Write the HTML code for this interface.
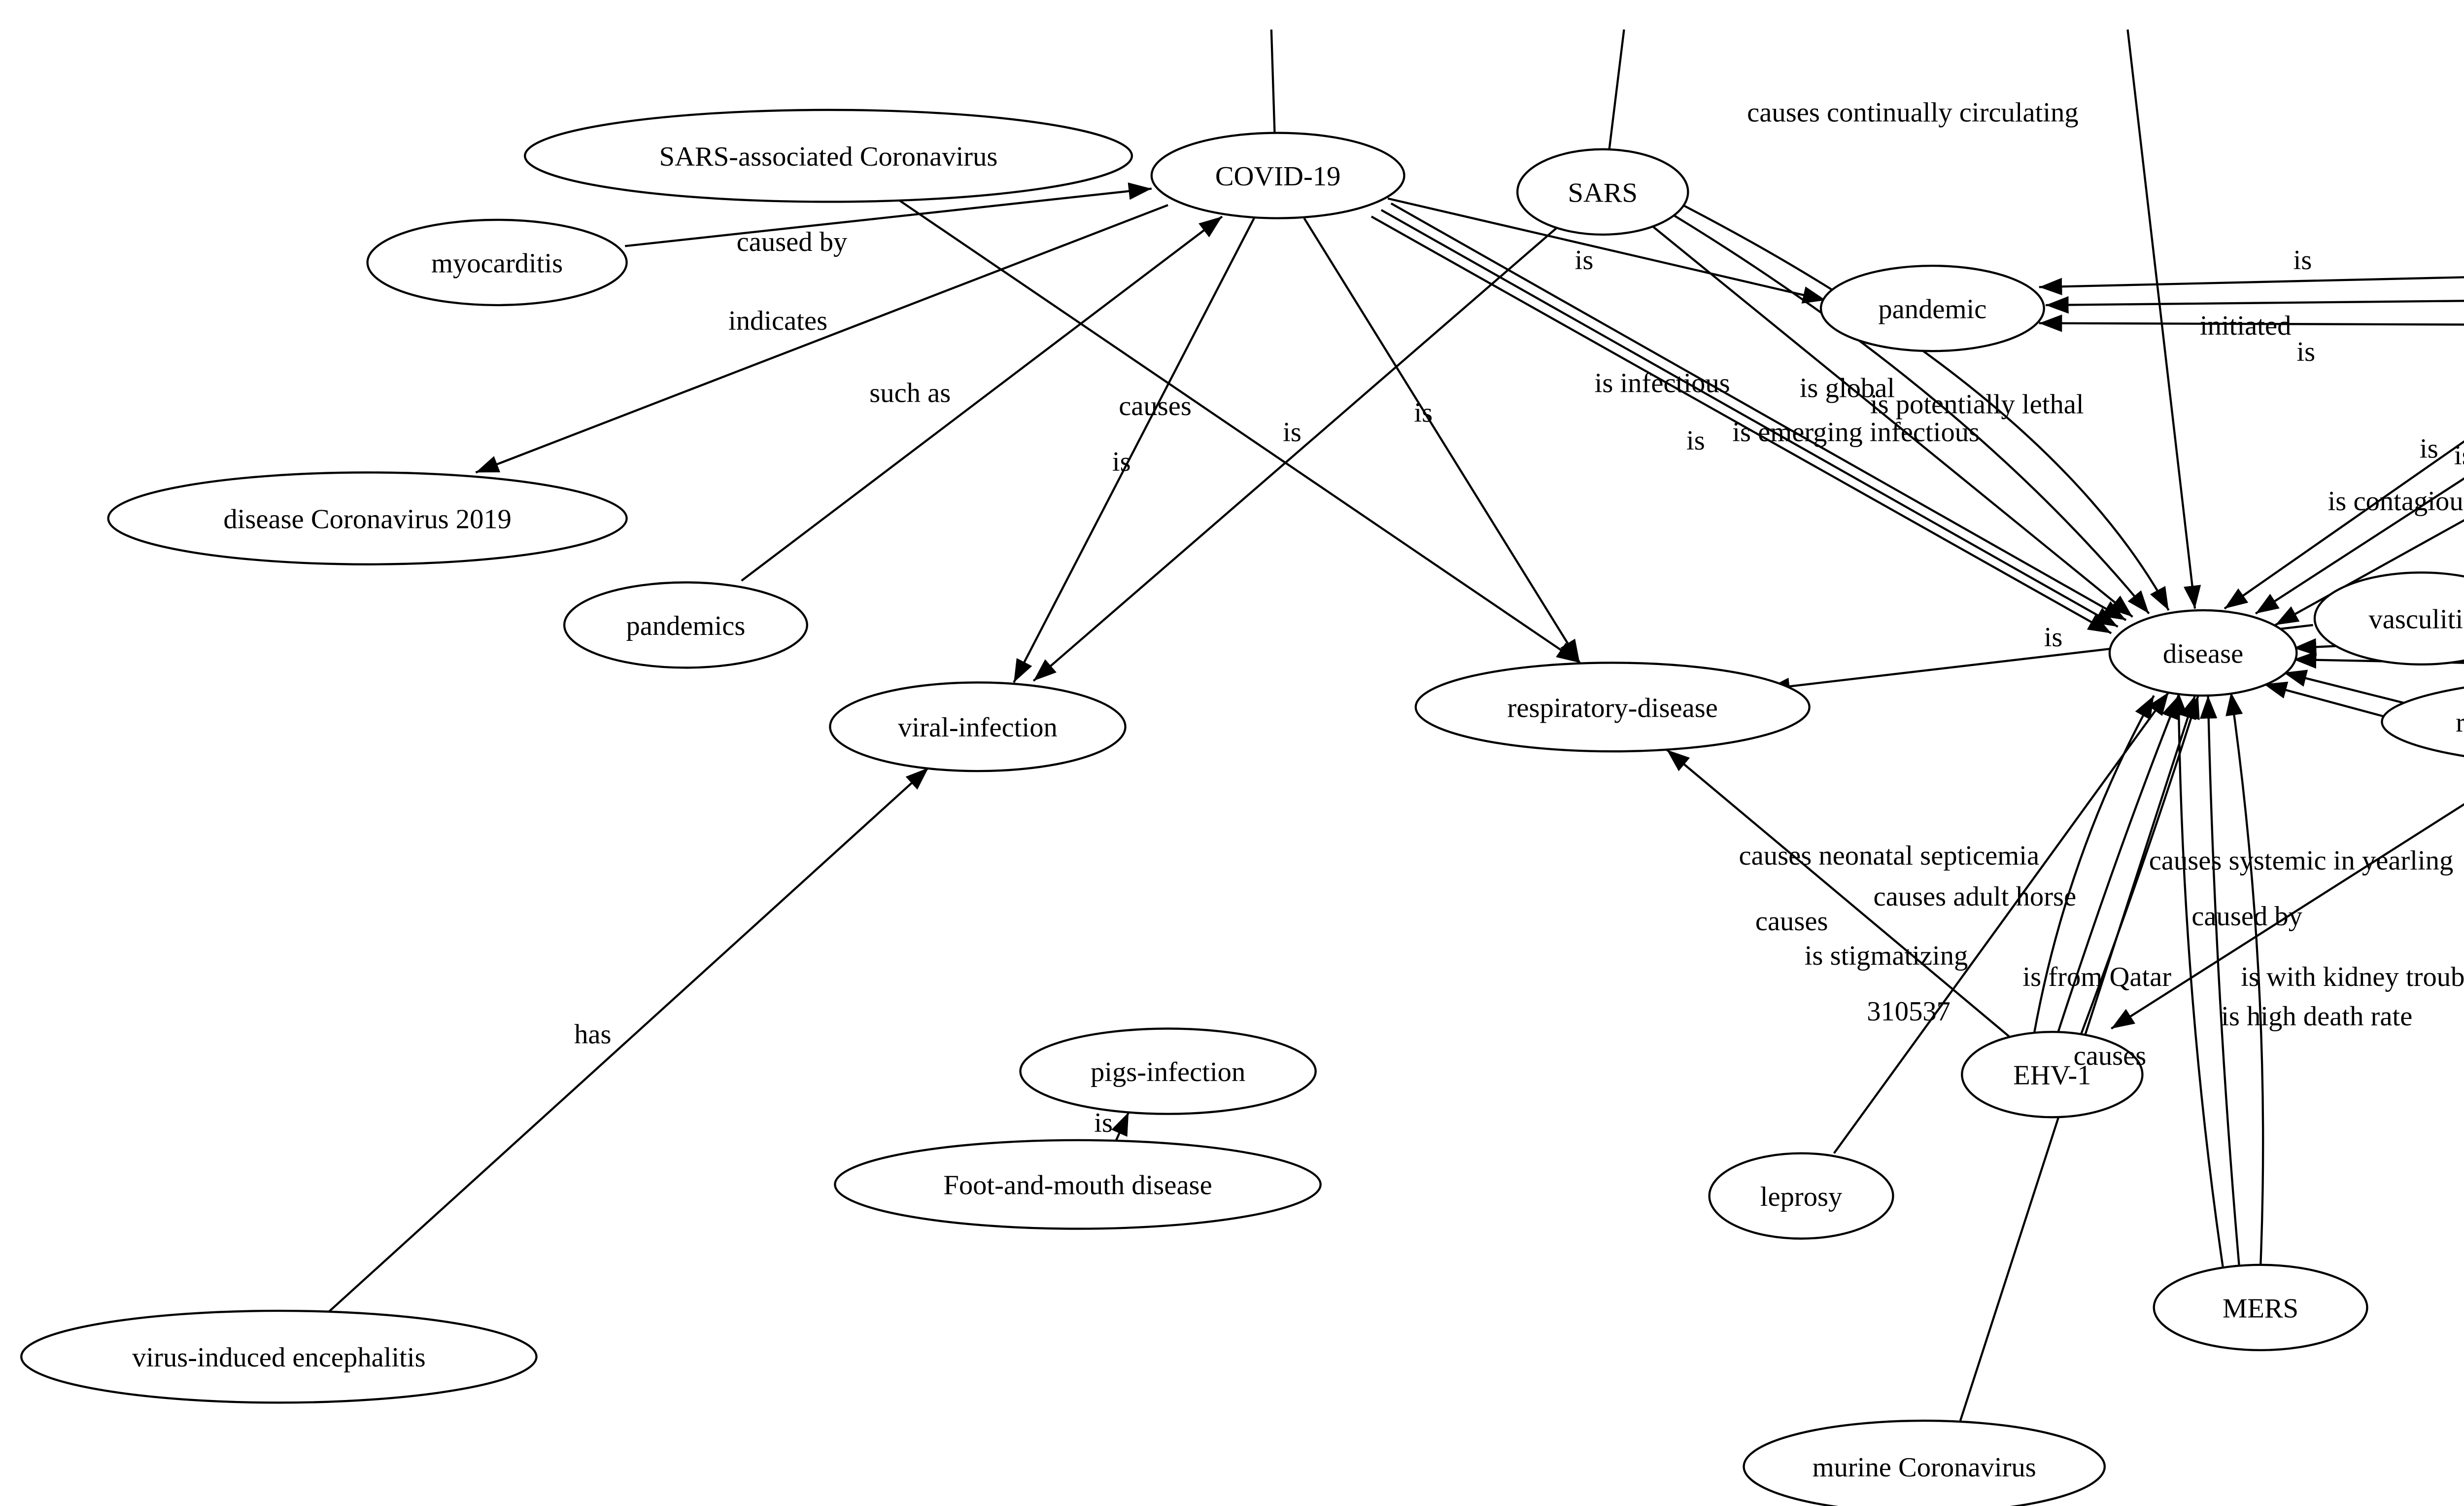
<!DOCTYPE html>
<html><head><meta charset="utf-8"><style>html,body{margin:0;padding:0;background:#fff}svg{display:block}</style></head>
<body>
<svg width="5163" height="3055" viewBox="0 0 1551 918" preserveAspectRatio="none" xmlns="http://www.w3.org/2000/svg" font-family="Liberation Serif, serif" font-size="17">
<defs><marker id="a" viewBox="0 0 10 10" refX="10" refY="5" markerWidth="14" markerHeight="14" markerUnits="userSpaceOnUse" orient="auto"><path d="M0,1.2 L10,5 L0,8.8 z" fill="#000"/></marker></defs>
<rect width="1551" height="918" fill="#fff"/>
<g stroke="#000" stroke-width="1.3" fill="none">
<line x1="775" y1="18" x2="777" y2="81"/>
<line x1="990" y1="18" x2="981" y2="91"/>
<line x1="1297" y1="18" x2="1338" y2="371" marker-end="url(#a)"/>
<line x1="381" y1="150" x2="702" y2="115" marker-end="url(#a)"/>
<line x1="712" y1="125" x2="290" y2="288" marker-end="url(#a)"/>
<line x1="452" y1="354" x2="745" y2="132" marker-end="url(#a)"/>
<line x1="765" y1="132" x2="618" y2="416" marker-end="url(#a)"/>
<line x1="950" y1="138" x2="630" y2="415" marker-end="url(#a)"/>
<line x1="548" y1="122" x2="963" y2="404" marker-end="url(#a)"/>
<line x1="795" y1="133" x2="963" y2="404" marker-end="url(#a)"/>
<line x1="846" y1="121" x2="1113" y2="183" marker-end="url(#a)"/>
<line x1="848" y1="124" x2="1296" y2="378" marker-end="url(#a)"/>
<line x1="842" y1="128" x2="1291" y2="382" marker-end="url(#a)"/>
<line x1="836" y1="132" x2="1287" y2="386" marker-end="url(#a)"/>
<line x1="1005" y1="136" x2="1300" y2="376" marker-end="url(#a)"/>
<path d="M1015,128 Q1200,240 1310,374" marker-end="url(#a)"/>
<path d="M1020,122 Q1250,240 1322,372" marker-end="url(#a)"/>
<line x1="1545" y1="168" x2="1243" y2="175" marker-end="url(#a)"/>
<line x1="1540" y1="183" x2="1247" y2="186" marker-end="url(#a)"/>
<line x1="1545" y1="198" x2="1243" y2="197" marker-end="url(#a)"/>
<line x1="1551" y1="235" x2="1356" y2="371" marker-end="url(#a)"/>
<line x1="1551" y1="260" x2="1375" y2="374" marker-end="url(#a)"/>
<line x1="1551" y1="290" x2="1387" y2="381" marker-end="url(#a)"/>
<line x1="1551" y1="372" x2="1543" y2="374" marker-end="url(#a)"/>
<line x1="1551" y1="388" x2="1398" y2="395" marker-end="url(#a)"/>
<line x1="1551" y1="405" x2="1398" y2="402" marker-end="url(#a)"/>
<line x1="1551" y1="450" x2="1392" y2="410" marker-end="url(#a)"/>
<line x1="1551" y1="463" x2="1380" y2="417" marker-end="url(#a)"/>
<line x1="1410" y1="381" x2="1077" y2="420" marker-end="url(#a)"/>
<line x1="1225" y1="632" x2="1016" y2="457" marker-end="url(#a)"/>
<line x1="1118" y1="703" x2="1322" y2="422" marker-end="url(#a)"/>
<path d="M1240,630 Q1260,520 1313,424" marker-end="url(#a)"/>
<path d="M1254,631 Q1290,520 1328,424" marker-end="url(#a)"/>
<path d="M1268,632 Q1310,520 1340,424" marker-end="url(#a)"/>
<line x1="1195" y1="866" x2="1338" y2="424" marker-end="url(#a)"/>
<path d="M1355,772 Q1330,600 1328,422" marker-end="url(#a)"/>
<path d="M1365,772 Q1350,600 1346,424" marker-end="url(#a)"/>
<path d="M1378,772 Q1385,600 1360,422" marker-end="url(#a)"/>
<line x1="1545" y1="463" x2="1287" y2="627" marker-end="url(#a)"/>
<line x1="680" y1="696" x2="688" y2="678" marker-end="url(#a)"/>
<line x1="200" y1="800" x2="566" y2="468" marker-end="url(#a)"/>
</g>
<g stroke="#000" stroke-width="1.3" fill="#fff">
<ellipse cx="505" cy="95" rx="185" ry="28"/>
<ellipse cx="779" cy="107" rx="77" ry="26"/>
<ellipse cx="977" cy="117" rx="52" ry="26"/>
<ellipse cx="303" cy="160" rx="79" ry="26"/>
<ellipse cx="224" cy="316" rx="158" ry="28"/>
<ellipse cx="418" cy="381" rx="74" ry="26"/>
<ellipse cx="1178" cy="188" rx="68" ry="26"/>
<ellipse cx="1600" cy="182" rx="60" ry="18"/>
<ellipse cx="1476" cy="377" rx="65" ry="28"/>
<ellipse cx="1343" cy="398" rx="57" ry="26"/>
<ellipse cx="1602" cy="440" rx="150" ry="28"/>
<ellipse cx="596" cy="443" rx="90" ry="27"/>
<ellipse cx="983" cy="431" rx="120" ry="27"/>
<ellipse cx="712" cy="653" rx="90" ry="26"/>
<ellipse cx="657" cy="722" rx="148" ry="27"/>
<ellipse cx="1251" cy="655" rx="55" ry="26"/>
<ellipse cx="1098" cy="729" rx="56" ry="26"/>
<ellipse cx="1378" cy="797" rx="65" ry="26"/>
<ellipse cx="170" cy="827" rx="157" ry="28"/>
<ellipse cx="1173" cy="894" rx="110" ry="28"/>
</g>
<g fill="#000" text-anchor="middle">
<text x="505" y="101">SARS-associated Coronavirus</text>
<text x="779" y="113">COVID-19</text>
<text x="977" y="123">SARS</text>
<text x="303" y="166">myocarditis</text>
<text x="224" y="322">disease Coronavirus 2019</text>
<text x="418" y="387">pandemics</text>
<text x="1178" y="194">pandemic</text>
<text x="1476" y="383">vasculitis</text>
<text x="1343" y="404">disease</text>
<text x="1497" y="446" text-anchor="start">respiratory</text>
<text x="596" y="449">viral-infection</text>
<text x="983" y="437">respiratory-disease</text>
<text x="712" y="659">pigs-infection</text>
<text x="657" y="728">Foot-and-mouth disease</text>
<text x="1251" y="661">EHV-1</text>
<text x="1098" y="735">leprosy</text>
<text x="1378" y="803">MERS</text>
<text x="170" y="833">virus-induced encephalitis</text>
<text x="1173" y="900">murine Coronavirus</text>
</g>
<g fill="#000">
<text x="1065" y="74">causes continually circulating</text>
<text x="449" y="153">caused by</text>
<text x="444" y="201">indicates</text>
<text x="530" y="245">such as</text>
<text x="682" y="253">causes</text>
<text x="678" y="287">is</text>
<text x="782" y="269">is</text>
<text x="862" y="257">is</text>
<text x="960" y="164">is</text>
<text x="972" y="239">is infectious</text>
<text x="1028" y="274">is</text>
<text x="1097" y="242">is global</text>
<text x="1140" y="252">is potentially lethal</text>
<text x="1056" y="269">is emerging infectious</text>
<text x="1398" y="164">is</text>
<text x="1341" y="204">initiated</text>
<text x="1400" y="220">is</text>
<text x="1475" y="279">is</text>
<text x="1496" y="283">is</text>
<text x="1419" y="311">is contagious</text>
<text x="1246" y="394">is</text>
<text x="1060" y="527">causes neonatal septicemia</text>
<text x="1142" y="552">causes adult horse</text>
<text x="1070" y="567">causes</text>
<text x="1100" y="588">is stigmatizing</text>
<text x="1138" y="622">310537</text>
<text x="1233" y="601">is from Qatar</text>
<text x="1264" y="649">causes</text>
<text x="1310" y="530">causes systemic in yearling</text>
<text x="1336" y="564">caused by</text>
<text x="1366" y="601">is with kidney trouble</text>
<text x="1354" y="625">is high death rate</text>
<text x="1525" y="808">119</text>
<text x="350" y="636">has</text>
<text x="667" y="690">is</text>
</g>
</svg>
</body></html>
